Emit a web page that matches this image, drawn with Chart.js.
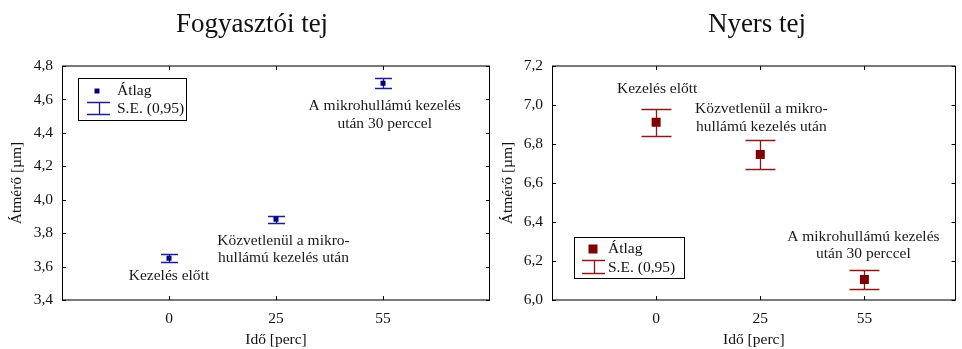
<!DOCTYPE html>
<html><head><meta charset="utf-8">
<script src="https://cdn.jsdelivr.net/npm/chart.js@4.4.1/dist/chart.umd.min.js"></script>
<style>
html,body{margin:0;padding:0;background:#fff;width:962px;height:349px;overflow:hidden;}
.panel{position:absolute;top:0;height:349px;}
#p1{left:0;width:505px;}
#p2{left:481px;width:481px;}
</style></head><body>
<div class="panel" id="p1"><canvas id="c1"></canvas></div>
<div class="panel" id="p2"><canvas id="c2"></canvas></div>
<script>
const categories = ['0', '25', '55'];
const panelTitles = ['Fogyasztói tej', 'Nyers tej'];
const xAxisTitle = 'Idő [perc]';
const yAxisTitle = 'Átmérő [µm]';
const legendLabels = ['Átlag', 'S.E. (0,95)'];

const fogyasztoiMean = [3.650, 3.883, 4.697];
const fogyasztoiSE = [0.025, 0.022, 0.030];
const fogyasztoiYTicks = [3.4, 3.6, 3.8, 4.0, 4.2, 4.4, 4.6, 4.8];

const nyersMean = [6.912, 6.746, 6.105];
const nyersSE = [0.070, 0.074, 0.047];
const nyersYTicks = [6.0, 6.2, 6.4, 6.6, 6.8, 7.0, 7.2];

const fogyasztoiNotes = [
  { x: 0.00, y: 3.545, lines: ['Kezelés előtt'] },
  { x: 1.07, y: 3.755, lines: ['Közvetlenül a mikro-', 'hullámú kezelés után'] },
  { x: 2.016, y: 4.561, lines: ['A mikrohullámú kezelés', 'után 30 perccel'] }
];
const nyersNotes = [
  { x: 0.01, y: 7.085, lines: ['Kezelés előtt'] },
  { x: 1.01, y: 6.978, lines: ['Közvetlenül a mikro-', 'hullámú kezelés után'] },
  { x: 1.99, y: 6.326, lines: ['A mikrohullámú kezelés', 'után 30 perccel'] }
];

const SERIF = '"Liberation Serif", "DejaVu Serif", serif';
const FS = 15.5;
const fmt = v => v.toFixed(1).replace('.', ',');

function makePlugin(cfg) {
  return {
    id: 'panelDecor',
    beforeDatasetsDraw(chart) {
      const { ctx, scales: { x, y } } = chart;
      ctx.save();
      ctx.strokeStyle = cfg.errColor;
      ctx.lineWidth = 1.3;
      cfg.mean.forEach((m, i) => {
        const px = Math.round(x.getPixelForValue(i)) + 0.5;
        const t = Math.round(y.getPixelForValue(m + cfg.se[i])) + 0.5;
        const b = Math.round(y.getPixelForValue(m - cfg.se[i])) + 0.5;
        ctx.beginPath();
        ctx.moveTo(px, t); ctx.lineTo(px, b);
        ctx.moveTo(px - cfg.cap / 2, t); ctx.lineTo(px + cfg.cap / 2, t);
        ctx.moveTo(px - cfg.cap / 2, b); ctx.lineTo(px + cfg.cap / 2, b);
        ctx.stroke();
      });
      ctx.restore();
    },
    afterDraw(chart) {
      const { ctx, chartArea: a, scales: { x, y } } = chart;
      ctx.save();
      // frame
      ctx.strokeStyle = '#7a7a7a';
      ctx.lineWidth = 2;
      ctx.beginPath();
      ctx.moveTo(a.left, a.top); ctx.lineTo(a.right, a.top);
      ctx.moveTo(a.left, a.bottom); ctx.lineTo(a.right, a.bottom);
      ctx.stroke();
      ctx.strokeStyle = '#000';
      ctx.lineWidth = 1;
      ctx.beginPath();
      ctx.moveTo(Math.round(a.left) + 0.5, a.top); ctx.lineTo(Math.round(a.left) + 0.5, a.bottom);
      ctx.moveTo(Math.round(a.right) - 0.5, a.top); ctx.lineTo(Math.round(a.right) - 0.5, a.bottom);
      // inward ticks
      cfg.yTicks.forEach(v => {
        const py = Math.round(y.getPixelForValue(v)) + 0.5;
        ctx.moveTo(a.left, py); ctx.lineTo(a.left + 4, py);
        ctx.moveTo(a.right, py); ctx.lineTo(a.right - 4, py);
      });
      categories.forEach((c, i) => {
        const px = Math.round(x.getPixelForValue(i)) + 0.5;
        ctx.moveTo(px, a.bottom); ctx.lineTo(px, a.bottom - 4);
        ctx.moveTo(px, a.top); ctx.lineTo(px, a.top + 4);
      });
      ctx.stroke();

      // notes
      ctx.fillStyle = '#1a1a1a';
      ctx.font = FS + 'px ' + SERIF;
      ctx.textAlign = 'center';
      ctx.textBaseline = 'middle';
      cfg.notes.forEach(n => {
        const px = x.getPixelForValue(n.x);
        const py = y.getPixelForValue(n.y);
        n.lines.forEach((l, k) => ctx.fillText(l, px, py + k * 17.5));
      });

      // title
      ctx.font = '27px ' + SERIF;
      ctx.fillStyle = '#111';
      ctx.fillText(cfg.title, cfg.titleX, 25);

      // legend
      const L = cfg.legend;
      ctx.fillStyle = '#fff';
      ctx.fillRect(L.x, L.y, L.w, L.h);
      ctx.strokeStyle = '#000';
      ctx.lineWidth = 1;
      ctx.strokeRect(L.x + 0.5, L.y + 0.5, L.w, L.h);
      ctx.fillStyle = cfg.pointColor;
      ctx.fillRect(L.x + L.mx - cfg.ms / 2, L.y + L.r1 - cfg.ms / 2, cfg.ms, cfg.ms);
      ctx.strokeStyle = cfg.errColor;
      ctx.lineWidth = 1.3;
      ctx.beginPath();
      const cx = Math.round(L.x + (L.i0 + L.i1) / 2) + 0.5;
      ctx.moveTo(L.x + L.i0, L.y + L.c0 + 0.5); ctx.lineTo(L.x + L.i1, L.y + L.c0 + 0.5);
      ctx.moveTo(L.x + L.i0, L.y + L.c1 + 0.5); ctx.lineTo(L.x + L.i1, L.y + L.c1 + 0.5);
      ctx.moveTo(cx, L.y + L.c0); ctx.lineTo(cx, L.y + L.c1);
      ctx.stroke();
      ctx.fillStyle = '#111';
      ctx.font = FS + 'px ' + SERIF;
      ctx.textAlign = 'left';
      ctx.fillText(legendLabels[0], L.x + L.tx, L.y + L.r1);
      ctx.fillText(legendLabels[1], L.x + L.tx, L.y + L.r2);
      ctx.restore();
    }
  };
}

function makeChart(id, cfg) {
  return new Chart(document.getElementById(id), {
    type: 'scatter',
    data: {
      datasets: [{
        label: legendLabels[0],
        data: cfg.mean.map((m, i) => ({ x: i, y: m })),
        pointStyle: 'rect',
        pointRadius: cfg.ms / 1.414,
        pointHoverRadius: cfg.ms / 1.414,
        backgroundColor: cfg.pointColor,
        borderColor: cfg.pointColor,
        borderWidth: 0
      }]
    },
    options: {
      responsive: true,
      maintainAspectRatio: false,
      animation: false,
      events: [],
      layout: { padding: { top: 66, right: cfg.padRight, left: 0, bottom: 0 } },
      plugins: { legend: { display: false }, tooltip: { enabled: false }, title: { display: false } },
      scales: {
        x: {
          type: 'linear',
          min: -1, max: cfg.xMax,
          afterBuildTicks: s => { s.ticks = categories.map((c, i) => ({ value: i })); },
          afterFit: s => { s.height = 49; },
          grid: { display: false, drawTicks: false },
          border: { display: false },
          ticks: {
            callback: (v) => categories[v] !== undefined ? categories[v] : '',
            color: '#111', padding: 10, maxRotation: 0,
            font: { family: SERIF, size: FS }
          },
          title: { display: true, text: xAxisTitle, color: '#111', padding: { top: 0, bottom: 0 },
                   font: { family: SERIF, size: FS } }
        },
        y: {
          min: cfg.yTicks[0], max: cfg.yTicks[cfg.yTicks.length - 1],
          afterBuildTicks: s => { s.ticks = cfg.yTicks.map(v => ({ value: v })); },
          afterFit: s => { s.width = cfg.yWidth; },
          grid: { display: false, drawTicks: false },
          border: { display: false },
          ticks: { callback: v => fmt(v), color: '#111', padding: 9, font: { family: SERIF, size: FS } },
          title: { display: true, text: yAxisTitle, color: '#111', padding: { top: cfg.yTitlePad, bottom: 0 },
                   font: { family: SERIF, size: FS } }
        }
      }
    },
    plugins: [makePlugin(cfg)]
  });
}

makeChart('c1', {
  mean: fogyasztoiMean, se: fogyasztoiSE, yTicks: fogyasztoiYTicks, notes: fogyasztoiNotes,
  title: panelTitles[0], titleX: 252,
  xMax: 3, padRight: 15, yWidth: 62, yTitlePad: 8,
  pointColor: '#00007f', errColor: '#1c1c96', ms: 5, cap: 17,
  legend: { x: 78, y: 78, w: 108, h: 42, mx: 19, r1: 13, r2: 31, tx: 39, i0: 9, i1: 32, c0: 24, c1: 36 }
});
makeChart('c2', {
  mean: nyersMean, se: nyersSE, yTicks: nyersYTicks, notes: nyersNotes,
  title: panelTitles[1], titleX: 276,
  xMax: 2.876, padRight: 2, yWidth: 71, yTitlePad: 18,
  pointColor: '#7f0000', errColor: '#8c1818', ms: 9, cap: 30,
  legend: { x: 93, y: 237, w: 110, h: 41, mx: 19, r1: 12, r2: 31, tx: 34, i0: 8, i1: 31, c0: 23, c1: 36 }
});
</script>
</body></html>
